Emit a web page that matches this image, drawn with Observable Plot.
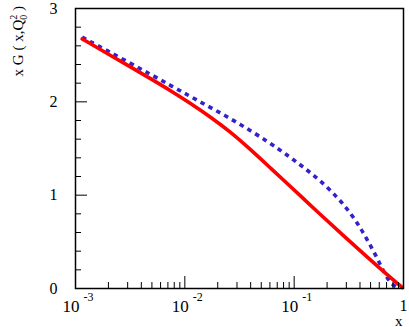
<!DOCTYPE html>
<html>
<head>
<meta charset="utf-8">
<script src="https://cdn.jsdelivr.net/npm/d3@7"></script>
<script src="https://cdn.jsdelivr.net/npm/@observablehq/plot@0.6"></script>
<style>
  html, body { margin: 0; padding: 0; background: #fff; }
  svg { display: block; }
</style>
</head>
<body>
<div id="chart"></div>
<script>
// Red solid curve
const redX = [0.00115, 0.00217, 0.00485, 0.0074, 0.01127, 0.01718, 0.0262, 0.0399, 0.0607, 0.0925, 0.1225, 0.15, 0.305, 0.617, 0.973];
const redY = [2.675, 2.486, 2.25, 2.121, 1.984, 1.838, 1.677, 1.489, 1.291, 1.093, 0.959, 0.862, 0.530, 0.209, 0.011];
// Blue dotted curve
const blueX = [0.00115, 0.00318, 0.00766, 0.01546, 0.0301, 0.0586, 0.0925, 0.127, 0.174, 0.255, 0.328, 0.404, 0.479, 0.575, 0.670, 0.760, 0.875];
const blueY = [2.693, 2.414, 2.166, 1.968, 1.782, 1.568, 1.404, 1.282, 1.157, 0.964, 0.807, 0.650, 0.498, 0.326, 0.161, 0.057, 0.008];

// Tick values and labels
const xMajor = [0.001, 0.01, 0.1, 1];
const xDecadeLabels = [{v: 0.001, base: "10", exp: "-3"}, {v: 0.01, base: "10", exp: "-2"}, {v: 0.1, base: "10", exp: "-1"}];
const xOneLabel = [{v: 1, text: "1"}];
const xMinor = [];
for (const d of [0.001, 0.01, 0.1]) for (let k = 2; k <= 9; k++) xMinor.push(+(d * k).toPrecision(3));
const yMajor = [0, 1, 2, 3];
const yMinor = [0.2, 0.4, 0.6, 0.8, 1.2, 1.4, 1.6, 1.8, 2.2, 2.4, 2.6, 2.8];

const red = redX.map((x, i) => ({x, y: redY[i]}));
const blue = blueX.map((x, i) => ({x, y: blueY[i]}));

const W = 409, H = 327;
const mL = 75, mR = 6, mT = 8, mB = 39;
const pw = W - mL - mR, ph = H - mT - mB;
const font = "'Liberation Serif', 'DejaVu Serif', serif";

const chart = Plot.plot({
  width: W, height: H,
  marginLeft: mL, marginRight: mR, marginTop: mT, marginBottom: mB,
  style: {fontFamily: font, fontSize: "16px", background: "white", overflow: "visible"},
  x: {type: "log", domain: [0.001, 1], axis: null},
  y: {domain: [0, 3], axis: null},
  marks: [
    Plot.line(blue, {x: "x", y: "y", stroke: "#3322cc", strokeWidth: 3.6, strokeDasharray: "4.5,4.5", curve: "basis", strokeLinecap: "butt"}),
    Plot.line(red, {x: "x", y: "y", stroke: "#ff0000", strokeWidth: 3.6, curve: "basis"}),
    Plot.tickX(xMajor, {x: d => d, insetTop: ph - 12, stroke: "black", strokeWidth: 1}),
    Plot.tickX(xMinor, {x: d => d, insetTop: ph - 6, stroke: "black", strokeWidth: 1}),
    Plot.tickY(yMajor, {y: d => d, insetRight: pw - 12, stroke: "black", strokeWidth: 1}),
    Plot.tickY(yMinor, {y: d => d, insetRight: pw - 6, stroke: "black", strokeWidth: 1}),
    Plot.frame({stroke: "black", strokeWidth: 1.5}),
    Plot.text(yMajor, {y: d => d, frameAnchor: "left", dx: -18, textAnchor: "end", text: d => String(d), fontSize: 16}),
    Plot.text(xDecadeLabels, {x: "v", frameAnchor: "bottom", dx: 4, dy: 23, textAnchor: "end", lineAnchor: "bottom", text: "base", fontSize: 17}),
    Plot.text(xDecadeLabels, {x: "v", frameAnchor: "bottom", dx: 8, dy: 12, textAnchor: "start", lineAnchor: "bottom", text: "exp", fontSize: 12}),
    Plot.text(xOneLabel, {x: "v", frameAnchor: "bottom", dy: 22, textAnchor: "middle", lineAnchor: "bottom", text: "text", fontSize: 16}),
    Plot.text(["x"], {frameAnchor: "bottom-right", dx: -1, dy: 37, textAnchor: "end", lineAnchor: "bottom", text: d => d, fontSize: 15})
  ]
});

// Y axis title with stacked sub/superscript
const svg = d3.select(chart);
const t = svg.append("text")
  .attr("transform", "translate(23,6) rotate(-90)")
  .attr("text-anchor", "end")
  .attr("font-family", font)
  .attr("font-size", 15)
  .attr("fill", "black");
t.append("tspan").text("x G ( x,Q");
t.append("tspan").attr("font-size", 10).attr("dy", -6).text("2");
t.append("tspan").attr("font-size", 10).attr("dx", -5).attr("dy", 10).text("0");
t.append("tspan").attr("dy", -4).text(" )");

document.getElementById("chart").appendChild(chart);
</script>
</body>
</html>
